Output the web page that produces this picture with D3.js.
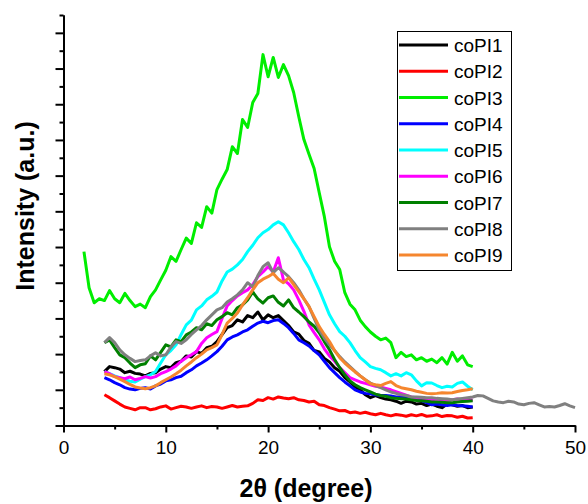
<!DOCTYPE html>
<html>
<head>
<meta charset="utf-8">
<script src="https://cdn.jsdelivr.net/npm/d3@7"></script>
<style>
  body { margin: 0; background: #fff; }
  svg { font-family: Arial, "Liberation Sans", sans-serif; }
</style>
</head>
<body>
<div id="chart"></div>
<script>
(function () {
  // 2θ positions (degree)
  const angleLow = [2, 2.5, 3, 3.5];
  const angles = [
    4, 4.5, 5, 5.5, 6, 6.5, 7, 7.5, 8, 8.5,
    9, 9.5, 10, 10.5, 11, 11.5, 12, 12.5, 13, 13.5,
    14, 14.5, 15, 15.5, 16, 16.5, 17, 17.5, 18, 18.5,
    19, 19.5, 20, 20.5, 21, 21.5, 22, 22.5, 23, 23.5,
    24, 24.5, 25, 25.5, 26, 26.5, 27, 27.5, 28, 28.5,
    29, 29.5, 30, 30.5, 31, 31.5, 32, 32.5, 33, 33.5,
    34, 34.5, 35, 35.5, 36, 36.5, 37, 37.5, 38, 38.5,
    39, 39.5, 40
  ];
  const angleHigh = [
    40.5, 41, 41.5, 42, 42.5, 43, 43.5, 44, 44.5, 45,
    45.5, 46, 46.5, 47, 47.5, 48, 48.5, 49, 49.5, 50
  ];

  // intensities (a.u., 1 = one major tick)
  const coPI1 = [
    1.51, 1.65, 1.62, 1.58, 1.48, 1.52, 1.46, 1.44, 1.39, 1.46,
    1.48, 1.58, 1.65, 1.62, 1.76, 1.80, 1.95, 1.92, 2.07, 2.02,
    2.18, 2.22, 2.35, 2.55, 2.74, 2.80, 2.96, 2.90, 3.08, 3.02,
    3.18, 2.96, 3.10, 3.02, 3.08, 2.94, 2.80, 2.62, 2.56, 2.38,
    2.30, 2.10, 2.06, 1.88, 1.78, 1.62, 1.52, 1.34, 1.22, 1.08,
    1.00, 0.86, 0.78, 0.84, 0.78, 0.74, 0.72, 0.68, 0.62, 0.68,
    0.66, 0.60, 0.62, 0.56, 0.60, 0.54, 0.50, 0.60, 0.58, 0.54,
    0.56, 0.50, 0.52
  ];
  const coPI2 = [
    0.86, 0.78, 0.69, 0.60, 0.52, 0.48, 0.44, 0.50, 0.50, 0.44,
    0.47, 0.52, 0.55, 0.46, 0.50, 0.54, 0.52, 0.48, 0.52, 0.55,
    0.50, 0.53, 0.52, 0.48, 0.52, 0.56, 0.52, 0.54, 0.55, 0.62,
    0.72, 0.70, 0.78, 0.74, 0.80, 0.77, 0.75, 0.78, 0.72, 0.70,
    0.66, 0.68, 0.58, 0.56, 0.50, 0.46, 0.41, 0.42, 0.36, 0.38,
    0.34, 0.37, 0.33, 0.30, 0.34, 0.30, 0.27, 0.31, 0.29, 0.26,
    0.30, 0.27, 0.31, 0.26, 0.27, 0.30, 0.25, 0.28, 0.27, 0.23,
    0.26, 0.21, 0.22
  ];
  const coPI3 = [
    4.87, 3.86, 3.44, 3.55,
    3.50, 3.78, 3.55, 3.44, 3.70, 3.50, 3.33, 3.40, 3.30, 3.61,
    3.80, 4.08, 4.35, 4.73, 4.60, 4.93, 5.25, 5.10, 5.68, 5.55,
    6.13, 5.95, 6.61, 6.90, 7.17, 7.81, 7.62, 8.57, 8.35, 9.05,
    9.30, 10.39, 9.77, 10.31, 9.75, 10.11, 9.80, 9.33, 8.65, 8.01,
    7.60, 7.20, 6.52, 5.85, 5.01, 4.60, 4.37, 3.72, 3.40, 3.24,
    2.95, 2.77, 2.62, 2.50, 2.40, 2.45, 2.32, 1.90, 2.05, 1.93,
    1.98, 1.84, 1.90, 1.80, 1.86, 1.76, 1.90, 1.72, 2.05, 1.80,
    1.95, 1.70, 1.65
  ];
  const coPI4 = [
    1.34, 1.28, 1.20, 1.14, 1.06, 1.02, 1.00, 1.04, 1.06, 1.02,
    1.11, 1.16, 1.25, 1.28, 1.34, 1.38, 1.48, 1.56, 1.67, 1.75,
    1.84, 1.95, 2.07, 2.22, 2.40, 2.48, 2.54, 2.62, 2.68, 2.78,
    2.87, 2.92, 2.88, 2.94, 2.96, 2.86, 2.74, 2.58, 2.40, 2.32,
    2.23, 2.10, 1.98, 1.80, 1.62, 1.48, 1.34, 1.22, 1.11, 1.00,
    0.94, 0.90, 0.89, 0.86, 0.84, 0.84, 0.83, 0.80, 0.80, 0.79,
    0.78, 0.74, 0.70, 0.64, 0.58, 0.60, 0.58, 0.56, 0.58, 0.56,
    0.55, 0.54, 0.52
  ];
  const coPI5 = [
    1.51, 1.45, 1.39, 1.34, 1.28, 1.24, 1.22, 1.30, 1.37, 1.42,
    1.51, 1.75, 1.98, 2.10, 2.26, 2.55, 2.82, 2.95, 3.24, 3.35,
    3.52, 3.62, 3.74, 4.05, 4.30, 4.38, 4.50, 4.65, 4.87, 5.05,
    5.26, 5.40, 5.49, 5.62, 5.71, 5.62, 5.40, 5.15, 4.93, 4.65,
    4.42, 4.10, 3.80, 3.45, 3.10, 2.85, 2.63, 2.50, 2.32, 2.10,
    1.90, 1.78, 1.65, 1.60, 1.56, 1.48, 1.39, 1.45, 1.39, 1.48,
    1.42, 1.25, 1.11, 1.20, 1.19, 1.12, 1.06, 1.10, 1.08, 1.18,
    1.22, 1.10, 1.00
  ];
  const coPI6 = [
    1.51, 1.45, 1.37, 1.34, 1.31, 1.36, 1.28, 1.32, 1.37, 1.33,
    1.37, 1.45, 1.51, 1.58, 1.67, 1.80, 1.90, 1.98, 2.07, 2.30,
    2.46, 2.55, 2.63, 3.00, 3.35, 3.50, 3.63, 3.72, 3.80, 3.95,
    4.17, 4.30, 4.45, 4.30, 4.70, 4.08, 3.97, 3.80, 3.52, 3.20,
    2.82, 2.60, 2.40, 2.15, 1.95, 1.80, 1.62, 1.48, 1.34, 1.28,
    1.22, 1.18, 1.14, 1.10, 1.08, 1.04, 1.00, 0.95, 0.90, 0.85,
    0.80, 0.78, 0.76, 0.74, 0.72, 0.74, 0.72, 0.70, 0.72, 0.74,
    0.72, 0.70, 0.72
  ];
  const coPI7 = [
    2.32, 2.40, 2.18, 1.98, 1.90, 1.75, 1.62, 1.70, 1.73, 1.95,
    1.84, 2.05, 2.26, 2.20, 2.40, 2.35, 2.54, 2.62, 2.74, 2.68,
    2.85, 2.80, 2.96, 3.05, 3.16, 3.10, 3.30, 3.38, 3.52, 3.74,
    3.55, 3.43, 3.58, 3.63, 3.45, 3.35, 3.52, 3.30, 3.18, 3.05,
    2.90, 2.78, 2.60, 2.35, 2.12, 1.85, 1.62, 1.42, 1.25, 1.14,
    1.06, 1.00, 0.94, 0.88, 0.84, 0.82, 0.78, 0.76, 0.75, 0.74,
    0.72, 0.70, 0.69, 0.68, 0.66, 0.66, 0.65, 0.64, 0.64, 0.66,
    0.67, 0.68, 0.69
  ];
  const coPI8 = [
    2.32, 2.46, 2.32, 2.12, 1.98, 1.88, 1.79, 1.82, 1.84, 1.95,
    2.04, 1.95, 1.98, 2.20, 2.35, 2.30, 2.40, 2.55, 2.68, 2.80,
    2.96, 3.10, 3.24, 3.30, 3.46, 3.55, 3.66, 3.80, 4.00, 3.88,
    4.20, 4.45, 4.56, 4.28, 4.42, 4.30, 4.17, 4.00, 3.80, 3.55,
    3.33, 3.00, 2.68, 2.45, 2.26, 2.10, 1.93, 1.78, 1.65, 1.52,
    1.39, 1.28, 1.19, 1.12, 1.06, 1.00, 0.94, 0.90, 0.86, 0.84,
    0.80, 0.80, 0.79, 0.78, 0.78, 0.76, 0.75, 0.74, 0.72, 0.74,
    0.76, 0.78, 0.80,
    0.84, 0.83, 0.76, 0.69, 0.66, 0.64, 0.68, 0.66, 0.60, 0.58,
    0.62, 0.64, 0.58, 0.52, 0.53, 0.52, 0.56, 0.61, 0.55, 0.50
  ];
  const coPI9 = [
    1.45, 1.42, 1.37, 1.30, 1.23, 1.15, 1.08, 1.05, 1.03, 1.06,
    1.11, 1.20, 1.28, 1.36, 1.45, 1.55, 1.67, 1.78, 1.90, 2.00,
    2.12, 2.18, 2.26, 2.55, 2.87, 3.00, 3.15, 3.38, 3.58, 3.80,
    4.00, 4.10, 4.17, 4.26, 4.10, 4.00, 4.14, 3.95, 3.75, 3.55,
    3.33, 3.05, 2.77, 2.55, 2.35, 2.10, 1.90, 1.75, 1.62, 1.50,
    1.39, 1.28, 1.17, 1.14, 1.12, 1.18, 1.23, 1.12, 1.06, 1.03,
    1.00, 0.96, 0.93, 0.90, 0.89, 0.90, 0.92, 0.91, 0.92, 0.95,
    0.98, 1.00, 1.03
  ];

  const names = ["coPI1", "coPI2", "coPI3", "coPI4", "coPI5", "coPI6", "coPI7", "coPI8", "coPI9"];
  const colors = ["#000000", "#ff0000", "#00ee00", "#0000ff", "#00ffff", "#ff00ff", "#008000", "#808080", "#f5862e"];
  const values = [coPI1, coPI2, coPI3, coPI4, coPI5, coPI6, coPI7, coPI8, coPI9];
  const xs = [angles, angles, angleLow.concat(angles), angles, angles, angles, angles, angles.concat(angleHigh), angles];

  const xMajor = [0, 10, 20, 30, 40, 50];
  const xMinor = [5, 15, 25, 35, 45];
  const yMajor = [0, 1, 2, 3, 4, 5, 6, 7, 8, 9, 10, 11];
  const yMinor = [0.5, 1.5, 2.5, 3.5, 4.5, 5.5, 6.5, 7.5, 8.5, 9.5, 10.5, 11.5];

  const width = 588, height = 504;
  const svg = d3.select("#chart").append("svg")
    .attr("width", width)
    .attr("height", height);

  const x = d3.scaleLinear().domain([0, 50]).range([63.5, 575]);
  const y = d3.scaleLinear().domain([0, 11.5]).range([425.5, 15]);

  const line = d3.line()
    .x(d => x(d[0]))
    .y(d => y(d[1]));

  const series = names.map((name, i) => ({
    name: name,
    color: colors[i],
    points: xs[i].map((a, j) => [a, values[i][j]])
  }));

  svg.append("g")
    .selectAll("path")
    .data(series)
    .join("path")
      .attr("fill", "none")
      .attr("stroke", d => d.color)
      .attr("stroke-width", 3)
      .attr("stroke-linejoin", "round")
      .attr("d", d => line(d.points));

  // axes
  const styleAxis = g => {
    g.selectAll(".domain").attr("stroke", "#000").attr("stroke-width", 2);
    g.selectAll(".tick line").attr("stroke", "#000").attr("stroke-width", 2);
  };

  svg.append("g")
    .attr("transform", "translate(0," + y(0) + ")")
    .call(d3.axisBottom(x).tickValues(xMinor).tickSize(4).tickSizeOuter(0).tickFormat(""))
    .call(styleAxis);

  svg.append("g")
    .attr("transform", "translate(0," + y(0) + ")")
    .call(d3.axisBottom(x).tickValues(xMajor).tickSize(7).tickSizeOuter(0).tickPadding(8))
    .call(styleAxis)
    .call(g => g.selectAll(".tick text")
      .attr("font-size", 19)
      .attr("font-family", "Arial, 'Liberation Sans', sans-serif")
      .attr("fill", "#000"));

  svg.append("g")
    .attr("transform", "translate(" + x(0) + ",0)")
    .call(d3.axisLeft(y).tickValues(yMinor).tickSize(4).tickSizeOuter(0).tickFormat(""))
    .call(styleAxis);

  svg.append("g")
    .attr("transform", "translate(" + x(0) + ",0)")
    .call(d3.axisLeft(y).tickValues(yMajor).tickSize(8).tickSizeOuter(0).tickFormat(""))
    .call(styleAxis);

  // axis titles
  svg.append("text")
    .attr("x", 306)
    .attr("y", 497)
    .attr("text-anchor", "middle")
    .attr("font-size", 25)
    .attr("font-weight", "bold")
    .text("2θ (degree)");

  svg.append("text")
    .attr("transform", "translate(34,206) rotate(-90)")
    .attr("text-anchor", "middle")
    .attr("font-size", 25)
    .attr("font-weight", "bold")
    .text("Intensity (a.u.)");

  // legend
  const legend = svg.append("g");
  legend.append("rect")
    .attr("x", 397.5)
    .attr("y", 31.5)
    .attr("width", 114)
    .attr("height", 239)
    .attr("fill", "#fff")
    .attr("stroke", "#000")
    .attr("stroke-width", 1);

  const item = legend.selectAll("g.item")
    .data(series)
    .join("g")
      .attr("class", "item")
      .attr("transform", (d, i) => "translate(0," + (45 + i * 26.25) + ")");

  item.append("line")
    .attr("x1", 399)
    .attr("x2", 448)
    .attr("stroke", d => d.color)
    .attr("stroke-width", 3);

  item.append("text")
    .attr("x", 454)
    .attr("y", 7)
    .attr("font-size", 19)
    .attr("fill", "#000")
    .text(d => d.name);
})();
</script>
</body>
</html>
